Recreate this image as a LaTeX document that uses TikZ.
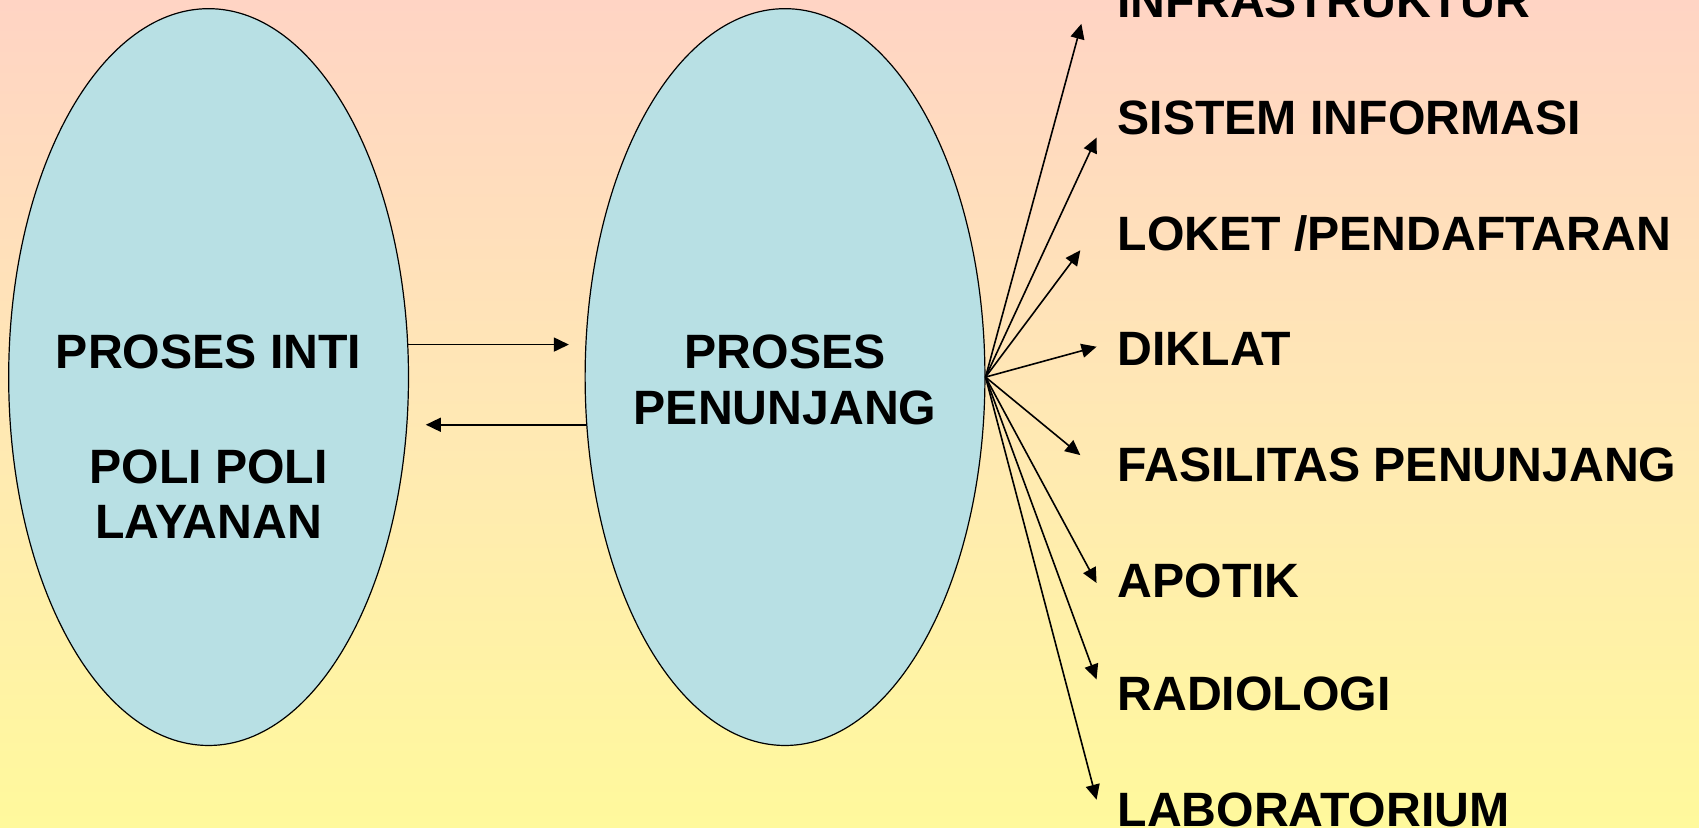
\documentclass[tikz,border=0pt]{standalone}
\usepackage{fontspec}
\setmainfont{Liberation Sans}
\usetikzlibrary{arrows.meta,shapes.geometric}
\definecolor{bgtop}{HTML}{FFD4C4}
\definecolor{bgmid}{HTML}{FFE8B4}
\definecolor{bgbot}{HTML}{FFF99C}
\definecolor{ellfill}{HTML}{B8E0E4}
\tikzset{
  u/.style={x=0.54177pt,y=-0.54177pt},
  oval/.style={ellipse,draw=black,line width=0.6pt,fill=ellfill,minimum width=199.9pt,minimum height=368.4pt,inner sep=0pt},
  lbl/.style={font=\fontsize{24.1pt}{27.8pt}\selectfont\bfseries,inner sep=0pt},
  item/.style={lbl,anchor=base west},
  arr/.style={line width=0.8pt,-{Triangle[length=7.5pt,width=7pt]}}
}
\begin{document}
\begin{tikzpicture}[u]
\shade[top color=bgtop,bottom color=bgbot,middle color=bgmid] (0,0) rectangle (1568,764);
\useasboundingbox (0,0) rectangle (1568,764);
\begin{scope}
\clip (0,0) rectangle (1568,764);
\node[oval] (e1) at (192.5,348) {};
\node[oval] (e2) at (724.5,348) {};
\node[lbl,anchor=base] (t1) at (192.5,340) {PROSES INTI};
\node[lbl,anchor=base] (t2) at (192.5,446) {POLI POLI};
\node[lbl,anchor=base] (t3) at (192.5,497) {LAYANAN};
\node[lbl,anchor=base] (t4) at (724.5,340) {PROSES};
\node[lbl,anchor=base] (t5) at (724.5,392) {PENUNJANG};
\coordinate (a1s) at (376.5,318);
\coordinate (a1e) at (525,318);
\coordinate (a2s) at (541.5,392);
\coordinate (a2e) at (393,392);
\draw[arr] (a1s) -- (a1e);
\draw[arr] (a2s) -- (a2e);
\node[item] (i1) at (1031,16) {INFRASTRUKTUR};
\node[item] (i2) at (1031,124) {SISTEM INFORMASI};
\node[item] (i3) at (1031,231) {LOKET /PENDAFTARAN};
\node[item] (i4) at (1031,337) {DIKLAT};
\node[item] (i5) at (1031,444) {FASILITAS PENUNJANG};
\node[item] (i6) at (1031,551) {APOTIK};
\node[item] (i7) at (1031,656) {RADIOLOGI};
\node[item] (i8) at (1031,763) {LABORATORIUM};
\coordinate (k1) at (998,22);
\coordinate (k2) at (1012,127);
\coordinate (k3) at (997,231);
\coordinate (k4) at (1012,320);
\coordinate (k5) at (997,420);
\coordinate (k6) at (1012,538);
\coordinate (k7) at (1012,627);
\coordinate (k8) at (1012,738);
\foreach \k in {k1,k2,k3,k4,k5,k6,k7,k8}{
  \draw[arr] (e2.east) -- (\k);
}
\end{scope}
\end{tikzpicture}
\end{document}
